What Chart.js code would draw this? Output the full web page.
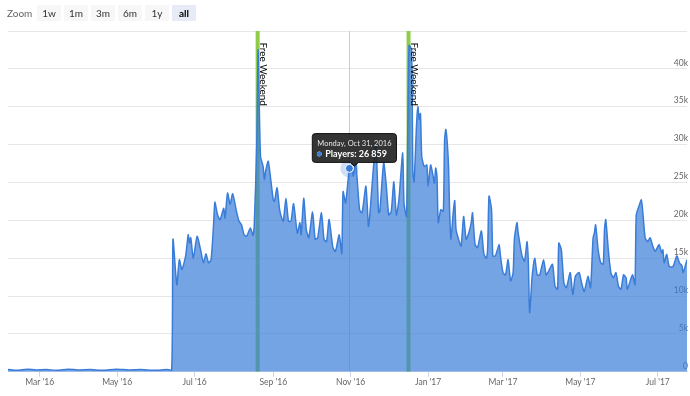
<!DOCTYPE html>
<html>
<head>
<meta charset="utf-8">
<script src="https://cdn.jsdelivr.net/npm/chart.js@4/dist/chart.umd.min.js"></script>
<style>
html,body{margin:0;padding:0;background:#fff;}
#wrap{position:relative;width:690px;height:396px;font-family:Lato,"DejaVu Sans",sans-serif;overflow:hidden;}
#zoom{position:absolute;left:7px;top:5px;height:16px;display:flex;align-items:center;}
#zoom .lbl{font-size:10px;color:#666;margin-right:4px;width:26px;}
#zoom .btn{width:24px;height:16px;line-height:16px;text-align:center;background:#f7f7f7;margin-right:3px;color:#333;font-size:10px;}
#zoom .btn.sel{background:#e6ebf5;font-weight:bold;color:#000;}
canvas{position:absolute;left:0;top:0;}
</style>
</head>
<body>
<div id="wrap">
  <canvas id="c" width="690" height="396"></canvas>
  <div id="zoom"><span class="lbl">Zoom</span><span class="btn">1w</span><span class="btn">1m</span><span class="btn">3m</span><span class="btn">6m</span><span class="btn">1y</span><span class="btn sel">all</span></div>
</div>
<script>
// ---- data (day 0 = 1 Mar 2016) ----
const EPOCH = Date.UTC(2016, 2, 1);
const dayOffsets = [
  -25,-18,-10,-3,5,14,22,30,40,50,60,70,80,90,100,104,
  105,108,110,112,115,117,118,119,121,124,127,129,131,133,135,137,138,140,142,143,145,146,148,150,152,155,157,159,161,163,166,168,169,
  171,172,173,174,176,177,178,180,182,184,185,187,189,191,192,194,196,198,
  200,203,205,206,208,210,212,215,217,219,222,224,226,228,231,233,236,238,239,241,
  244,246,247,249,252,254,257,259,260,264,265,267,268,271,273,275,277,279,281,283,286,287,289,
  290,291,293,294,295,297,298,299,300,301,303,305,306,308,310,311,312,313,314,316,318,319,320,322,323,324,326,327,328,330,332,334,336,338,340,341,343,345,348,350,352,353,354,356,357,359,362,363,
  365,367,369,371,373,374,376,377,380,382,384,385,386,388,390,392,394,397,399,401,404,406,408,409,411,413,415,418,420,422,425,427,429,432,434,436,437,438,440,442,444,445,446,448,450,452,454,456,458,460,462,463,467,469,
  470,472,474,475,477,479,481,483,485,488,490,491,492,494,496,499,502,504,506,507,510
];
const players = [
  300,200,350,250,300,200,350,250,300,200,350,250,300,200,300,250,
  17500,11500,14800,13500,15300,18100,17000,17700,15000,17900,15900,14400,15600,14400,14800,19500,22400,20800,20100,20500,21600,20300,23600,22100,23500,21200,19900,19400,18100,17900,19000,18000,19200,
  30000,42500,35000,28400,27100,25400,26500,27800,25400,22700,22500,24300,21400,20100,19900,22900,19900,19900,
  22200,18300,19700,18100,22900,18800,17700,21100,17500,17700,21000,17500,17200,20100,16400,15900,18100,15600,23800,22300,
  26859,27500,25800,27500,21400,21000,24500,19200,20500,29300,30200,21000,21200,27600,24700,20700,21200,25100,20700,22700,28900,22300,20500,
  32000,43100,42500,26200,25100,33000,35000,33300,34100,28400,27100,27300,24500,27300,25800,24900,26900,25800,19700,21400,21200,30600,32000,27600,21000,17500,21400,22600,18800,17500,16600,20500,17500,18300,19700,21000,16800,16400,18600,15500,15000,16600,23200,21400,15300,15300,16800,15300,
  13100,12800,14800,12000,13100,17500,19700,18300,15300,14600,17200,14400,7800,12600,15000,12800,12800,14800,12800,13300,14200,11300,10900,17000,16100,11700,11100,13100,10200,12600,13100,11700,10600,12600,11100,17700,18300,19400,16100,14400,14200,18800,20100,16100,13100,12400,13100,11300,10900,12800,12400,10900,12800,11500,
  20700,21800,22700,21400,17700,17200,17700,16600,15900,16800,15700,16100,14400,15500,13900,13900,15300,14400,14000,13100,14800
];
const tickDates = ['2016-03-01','2016-05-01','2016-07-01','2016-09-01','2016-11-01','2017-01-01','2017-03-01','2017-05-01','2017-07-01'];
const tickLabels = ["Mar '16","May '16","Jul '16","Sep '16","Nov '16","Jan '17","Mar '17","May '17","Jul '17"];
const yTickValues = [0,5000,10000,15000,20000,25000,30000,35000,40000,45000];
const yTickLabels = ['0','5k','10k','15k','20k','25k','30k','35k','40k',''];
const freeWeekendDays = [171.7, 290.6];
const freeWeekendLabel = 'Free Weekend';
const tooltipDay = 244;
const xRange = [-25, 510];
const seriesName = 'Players';

// ---- helpers ----
const dayOf = s => (Date.parse(s) - EPOCH) / 86400000;
const WD = ['Sunday','Monday','Tuesday','Wednesday','Thursday','Friday','Saturday'];
const MO = ['Jan','Feb','Mar','Apr','May','Jun','Jul','Aug','Sep','Oct','Nov','Dec'];
function fmtDate(d){
  const dt = new Date(EPOCH + Math.round(d) * 86400000);
  return WD[dt.getUTCDay()] + ', ' + MO[dt.getUTCMonth()] + ' ' + dt.getUTCDate() + ', ' + dt.getUTCFullYear();
}
const fmtNum = n => String(Math.round(n)).replace(/\B(?=(\d{3})+(?!\d))/g, ' ');

const LINE = 'rgb(58,125,216)';
const FILL = 'rgba(58,125,216,0.7)';

Chart.defaults.font.family = 'Lato, "DejaVu Sans", sans-serif';

Chart.Tooltip.positioners.shifted = function(elements){
  if (!elements.length) return false;
  return {x: elements[0].element.x + 5, y: elements[0].element.y};
};

const under = {
  id: 'under',
  beforeDatasetsDraw(chart){
    const {ctx, chartArea:a, scales:{x}} = chart;
    ctx.save();
    const act = chart.getActiveElements();
    if (act.length){
      const px = Math.round(act[0].element.x) + 0.5;
      ctx.strokeStyle = '#cccccc'; ctx.lineWidth = 1;
      ctx.beginPath(); ctx.moveTo(px, a.top); ctx.lineTo(px, a.bottom); ctx.stroke();
    }
    ctx.strokeStyle = '#8fcc4a'; ctx.lineWidth = 4;
    freeWeekendDays.forEach(d => {
      const px = x.getPixelForValue(d);
      ctx.beginPath(); ctx.moveTo(px, a.top); ctx.lineTo(px, a.bottom); ctx.stroke();
    });
    ctx.restore();
  },
  afterDatasetsDraw(chart){
    const {ctx, chartArea:a, scales:{x}} = chart;
    ctx.save();
    ctx.fillStyle = '#000';
    ctx.font = '10px Lato';
    ctx.textBaseline = 'alphabetic';
    ctx.textAlign = 'left';
    freeWeekendDays.forEach(d => {
      const px = x.getPixelForValue(d);
      ctx.save();
      ctx.translate(px + 2.5, a.top + 11.5);
      ctx.rotate(Math.PI / 2);
      ctx.fillText(freeWeekendLabel, 0, 0);
      ctx.restore();
    });
    chart.getActiveElements().forEach(e => {
      const el = e.element;
      ctx.fillStyle = 'rgba(58,125,216,0.25)';
      ctx.beginPath(); ctx.arc(el.x, el.y, 9, 0, Math.PI*2); ctx.fill();
      ctx.fillStyle = LINE; ctx.strokeStyle = '#fff'; ctx.lineWidth = 1;
      ctx.beginPath(); ctx.arc(el.x, el.y, 4, 0, Math.PI*2); ctx.fill(); ctx.stroke();
    });
    ctx.restore();
  }
};

const chart = new Chart(document.getElementById('c'), {
  type: 'line',
  data: {
    datasets: [{
      label: seriesName,
      data: dayOffsets.map((d, i) => ({x: d, y: players[i]})),
      borderColor: LINE,
      backgroundColor: FILL,
      borderWidth: 1.5,
      fill: 'origin',
      pointRadius: 0,
      pointHoverRadius: 0,
      tension: 0.2
    }]
  },
  options: {
    responsive: false,
    animation: false,
    events: [],
    layout: {padding: {left: 8, right: 1, top: 31, bottom: 9}},
    scales: {
      x: {
        type: 'linear',
        min: xRange[0], max: xRange[1],
        afterBuildTicks: s => { s.ticks = tickDates.map(t => ({value: dayOf(t)})); },
        ticks: {
          autoSkip: false, maxRotation: 0,
          callback: (v, i) => tickLabels[i],
          color: '#666', font: {size: 8.5}, padding: 0
        },
        grid: {drawOnChartArea: false, drawTicks: true, tickLength: 5, tickColor: '#ccd6eb'},
        border: {display: true, color: '#ccd6eb', width: 1}
      },
      y: {
        position: 'right',
        min: 0, max: 45000,
        afterBuildTicks: s => { s.ticks = yTickValues.map(v => ({value: v})); },
        ticks: {
          mirror: true, padding: 1, labelOffset: -6,
          callback: (v, i) => yTickLabels[i],
          color: '#666', font: {size: 8.5}
        },
        grid: {color: '#e6e6e6', drawTicks: false},
        border: {display: false}
      }
    },
    plugins: {
      legend: {display: false},
      tooltip: {
        enabled: true,
        position: 'shifted',
        yAlign: 'bottom', xAlign: 'center',
        backgroundColor: 'rgba(35,35,35,0.92)',
        borderColor: '#111', borderWidth: 1,
        cornerRadius: 3,
        caretSize: 4, caretPadding: 2,
        padding: {top: 5, bottom: 3, left: 5, right: 5},
        titleFont: {size: 7.5, weight: 'normal'},
        titleColor: '#e6e6e6',
        titleMarginBottom: 1,
        bodyFont: {size: 9, weight: 'bold'},
        bodyColor: '#fff',
        displayColors: true, usePointStyle: true,
        boxWidth: 4, boxHeight: 4, boxPadding: 2,
        callbacks: {
          title: items => fmtDate(items[0].parsed.x),
          label: item => seriesName + ': ' + fmtNum(item.parsed.y),
          labelColor: () => ({backgroundColor: LINE, borderColor: LINE}),
          labelPointStyle: () => ({pointStyle: 'circle', rotation: 0})
        }
      }
    }
  },
  plugins: [under]
});

const idx = dayOffsets.indexOf(tooltipDay);
const act = [{datasetIndex: 0, index: idx}];
chart.setActiveElements(act);
const el = chart.getDatasetMeta(0).data[idx];
chart.tooltip.setActiveElements(act, {x: el.x, y: el.y});
chart.update();
</script>
</body>
</html>
